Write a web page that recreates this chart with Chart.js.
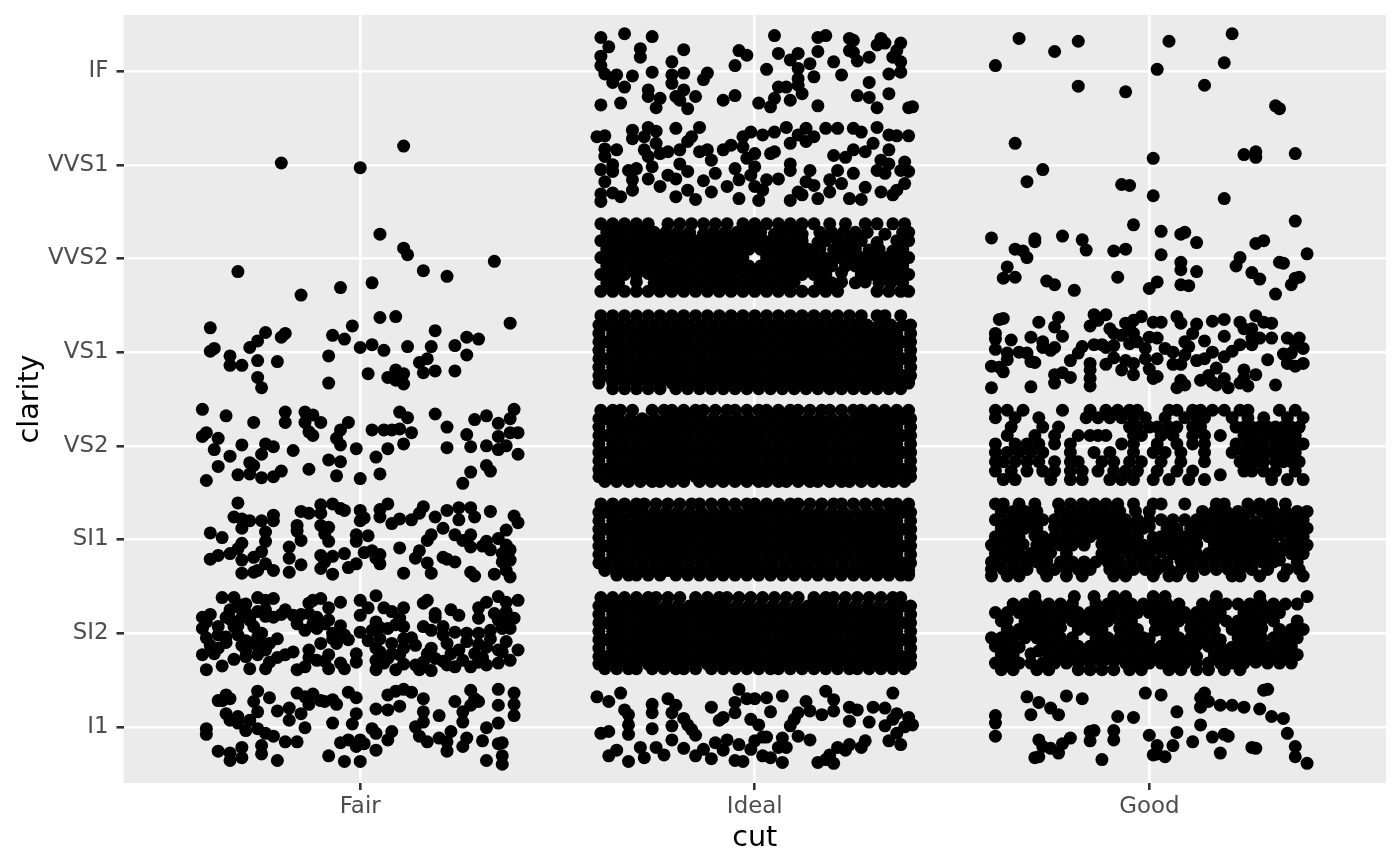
<!DOCTYPE html>
<html>
<head>
<meta charset="utf-8">
<script src="https://cdn.jsdelivr.net/npm/chart.js@4"></script>
<style>html,body{margin:0;background:#fff}canvas{display:block}</style>
</head>
<body>
<canvas id="c" width="1400" height="866"></canvas>
<script>
const cuts = ['Fair', 'Ideal', 'Good'];
const clarities = ['I1', 'SI2', 'SI1', 'VS2', 'VS1', 'VVS2', 'VVS1', 'IF'];

// jitter, in hundredths of a category: x,y,x,y...
const fairVVS1 = [-20,2, 0,-3, 11,20];
const fairVVS2 = [5,26, 11,11, 12,4, 16,-13, 22,-19, 34,-3, -31,-14, -15,-39, -5,-31, 3,-26];
const fairVS1 = [-38,26, -38,1, -37,4, -33,-4, -33,-14, -30,-14, -28,5, -26,12, -24,21, -26,-9, -26,-27, -25,-38, -21,-10, -20,16, -19,20, -8,-4, -8,-33, -7,18, -4,14, -2,28, 0,5, 3,8, 6,2, 5,37, 9,38, 12,6, 2,-23, 7,-27, 9,-30, 9,-19, 11,-34, 11,-23, 15,-11, 17,-7, 16,-22, 19,-20, 18,6, 19,23, 24,7, 24,-20, 27,16, 30,14, 27,-3, 38,31];
const fairVS2 = [-40,39, -34,32, -27,25, -19,36, -19,25, -14,36, -12,33, -14,25, -10,25, -13,15, -12,11, -3,25, -5,17, -6,8, -5,1, -39,14, -40,10, -36,8, -37,-4, -33,-11, -30,1, -36,-22, -39,-37, -31,-31, -28,-18, -27,-21, -28,-30, -25,-34, -24,2, -22,-1, -25,-9, -17,-5, -22,-33, -20,-27, -13,-25, -8,-15, -5,-17, -6,-32, -1,-3, 0,-35, 4,-12, 7,-3, 5,-30, 3,17, 6,17, 8,17, 10,18, 10,36, 12,30, 13,14, 11,2, 19,34, 22,20, 22,-2, 27,12, 29,28, 32,32, 28,-1, 32,0, 28,-28, 26,-40, 32,-21, 33,-27, 35,24, 35,10, 35,-4, 37,0, 39,39, 38,29, 38,14, 40,14, 40,-9];
const fairSI1 = [-31,39, -32,24, -30,22, -30,12, -38,7, -35,2, -30,-4, -31,-10, -33,-15, -36,-17, -38,-21, -30,-22, -30,-36, -27,-35, -26,-33, -24,-26, -27,-19, -25,-13, -28,20, -25,20, -22,26, -22,20, -24,8, -24,-2, -22,-33, -18,-8, -18,-20, -18,-35, -15,30, -13,28, -16,15, -16,9, -15,-1, -15,-27, -10,37, -10,28, -7,38, -5,33, -4,31, -10,15, -8,13, -9,6, -8,-2, -10,-17, -7,-18, -10,-31, -9,-24, -4,-15, -7,-37, -3,-30, -1,-26, 0,31, 0,20, 1,23, -1,5, -1,-2, 2,4, 1,-14, 3,-12, 5,-16, 4,-20, 5,-26, 7,38, 5,32, 5,24, 8,17, 10,22, 10,-9, 11,-36, 13,21, 15,28, 16,35, 18,5, 17,-1, 15,-12, 14,-20, 17,-25, 18,-36, 19,24, 22,31, 21,12, 25,21, 24,5, 26,-1, 25,34, 28,34, 29,24, 28,5, 28,-8, 21,-19, 22,-21, 24,-24, 28,-35, 29,-39, 31,-7, 33,-11, 32,-2, 35,1, 33,30, 34,-37, 37,10, 37,-6, 36,-15, 38,-11, 36,-24, 38,-22, 37,-33, 38,-40, 39,25, 40,18];
const fairSI2 = [-35,38, -32,38, -30,30, -29,31, -26,38, -24,35, -22,37, -19,25, -12,35, -10,37, -13,32, -8,27, -5,33, 0,35, 4,40, 2,27, 0,19, 6,27, 8,23, 11,27, 16,32, 17,35, 23,25, 25,19, 19,21, 30,27, 32,33, 35,39, 37,33, 40,35, -40,17, -38,20, -39,12, -40,5, -39,-5, -38,-13, -36,7, -34,17, -33,25, -31,28, -30,17, -32,7, -34,-4, -36,-16, -37,-22, -40,-23, -39,-39, -35,-35, -32,-28, -29,-25, -28,-38, -26,23, -24,25, -22,17, -27,7, -25,0, -30,-13, -27,-11, -25,-11, -23,-11, -21,-6, -26,-23, -23,-31, -24,-38, -19,-23, -17,-20, -16,-39, -14,-36, -16,10, -14,3, -11,5, -13,21, -11,17, -8,14, -7,0, -6,-11, -3,-7, -10,-11, -13,-18, -11,-29, -8,-23, -8,-38, -5,-32, -4,-38, -1,-31, -1,-22, 0,1, 3,3, 4,12, 7,5, 10,16, 11,7, 5,-6, 8,-11, 11,-6, 14,-13, 4,-16, 4,-29, 7,-27, 4,-39, 9,-39, 10,-23, 14,-34, 15,-39, 16,-31, 18,-40, 16,7, 18,3, 19,17, 21,7, 24,1, 22,-11, 18,-16, 19,-27, 22,-34, 24,-36, 25,-18, 23,-22, 27,0, 30,0, 30,16, 33,3, 35,14, 36,5, 39,16, 37,23, 33,-6, 37,-9, 35,-18, 29,-22, 28,-36, 30,-31, 32,-34, 35,-32, 40,-18, 38,-29, 36,-20, -33,15, -31,8, -29,22, -28,14, -36,-2, -31,-2, -29,-8, -26,-4, -34,-10, -29,-18, -24,-18, -21,-26, -24,18, -20,20, -17,19, -15,20, -12,10, -9,10, -5,8, -7,-6, -4,-2, -13,-26, -9,-30, 2,-8, 5,6, 9,9, 11,-16, 8,-22, 5,-20, 13,-5, 6,-32, 11,-33, 21,-2, 17,-22, 21,-30, 26,-29, 27,-9, 30,-12, 34,21, 37,15, 32,-15, 38,5, 31,-26];
const fairI1 = [-36,28, -34,34, -33,30, -35,28, -34,14, -33,7, -31,11, -31,4, -29,-4, -28,7, -26,16, -27,27, -26,38, -23,31, -21,17, -26,-2, -24,-7, -22,-10, -25,-20, -25,-29, -19,-16, -16,-16, -18,20, -18,7, -15,14, -14,-1, -16,36, -14,32, -12,35, -13,24, -10,28, -9,27, -7,29, -6,24, -7,4, -3,37, -1,31, -1,14, -2,3, 4,19, 7,34, 9,38, 11,40, 7,18, 10,22, 13,37, 16,30, 16,16, 16,5, 14,0, 15,-10, 17,-16, 20,12, 20,-12, 22,-16, 22,-26, 23,-5, 26,5, 24,27, 26,16, 28,39, 29,30, 28,23, 30,27, 27,-12, 26,-21, 32,-1, 31,-15, 35,23, 35,40, 35,4, 35,-18, 36,-17, 32,-36, 36,-31, 36,-40, 39,36, 39,24, 39,12, -39,-2, -39,-8, -36,-26, -33,-28, -33,-36, -30,-22, -30,-33, -21,-36, -8,-31, -4,-37, 0,-37, -5,-17, -3,-14, 0,-14, -1,-21, 1,-18, 4,-25, 3,-2, 4,-7, 7,-14, 8,-5];

const idealIF = [-39,36, -33,40, -26,37, -37,26, -39,16, -39,6, -38,-3, -36,-12, -35,-4, -31,-5, -33,-17, -34,-34, -39,-36, -29,24, -29,15, -26,-1, -27,-20, -27,-27, -24,-29, -25,-39, -18,23, -21,10, -21,-4, -18,-2, -21,-13, -18,-20, -20,-27, -19,-31, -15,-27, -17,-40, -12,-2, -13,-9, -4,22, -2,17, -5,6, -5,-26, -8,-31, 1,-34, 3,2, 5,38, 6,19, 9,12, 11,19, 11,3, 14,8, 16,21, 15,-6, 11,-8, 16,36, 18,38, 20,10, 22,-4, 6,-17, 5,-29, 4,-38, 9,-31, 8,-17, 11,-15, 12,-24, 16,-37, 24,35, 25,33, 24,22, 25,20, 26,11, 29,15, 31,28, 32,35, 33,30, 37,30, 36,22, 35,15, 37,10, 37,-1, 34,-3, 29,-12, 26,-26, 29,-28, 31,-39, 34,-24, 39,-39, 40,-38];
const idealVVS1 = [-40,30, -38,31, -31,37, -31,28, -27,40, -25,36, -28,30, -25,23, -20,39, -14,40, -16,30, -17,25, -38,17, -35,16, -38,9, -39,-5, -36,0, -36,-7, -38,-18, -39,-31, -39,-39, -36,-30, -34,-34, -28,16, -27,9, -32,-6, -30,-4, -26,-2, -31,-16, -31,-27, -27,-15, -24,-23, -24,12, -22,14, -19,16, -19,1, -17,-7, -22,-11, -20,-15, -20,-34, -17,-27, -15,-37, -13,-17, -14,14, -12,16, -11,5, -10,-9, -11,-29, -8,16, -6,21, -7,-23, -4,-36, -5,-4, -4,-16, -3,30, -1,35, -3,19, -2,7, 0,12, 0,-2, -1,-11, 2,32, 5,35, 8,40, 4,12, 5,14, 0,-23, 2,-27, 1,-38, 3,-16, 6,-15, 9,23, 11,32, 13,39, 13,25, 15,30, 18,39, 21,39, 9,1, 9,-6, 14,-6, 13,-18, 11,-29, 9,-38, 12,-32, 16,-36, 15,-22, 19,-16, 19,-29, 21,-6, 20,10, 23,8, 25,16, 28,14, 25,-9, 22,-20, 24,-36, 27,-37, 28,-24, 25,39, 27,35, 31,40, 30,23, 34,32, 36,31, 39,31, 34,16, 32,5, 34,1, 31,-6, 33,-9, 38,3, 37,-6, 39,-7, 38,-20, 36,-27, 35,-32, 32,-29];
const idealI1 = [-40,32, -37,27, -34,36, -33,18, -32,13, -32,2, -32,-8, -39,-7, -37,-5, -26,-2, -26,24, -26,15, -22,30, -20,23, -21,15, -21,1, -21,-14, -37,-31, -35,-25, -32,-37, -29,-22, -28,-33, -25,-22, -23,-30, -18,9, -17,2, -16,-3, -15,-9, -18,-23, -15,-31, -13,-24, -11,-34, -10,-17, -8,-25, -7,-14, -11,21, -5,26, -5,15, -8,10, -9,7, -4,40, -2,30, 0,30, 3,31, 7,33, 4,16, -1,8, 1,2, -4,-19, -5,-36, -3,-37, -1,-24, 0,-15, 2,-11, 3,-11, 2,-31, 4,-33, 7,-38, 7,-12, 6,-22, 8,-22, 9,1, 11,-10, 10,8, 11,15, 14,17, 13,27, 14,-14, 17,13, 20,17, 20,29, 18,38, 24,21, 26,18, 24,6, 29,5, 30,21, 33,20, 35,36, 36,14, 35,8, 33,1, 39,10, 40,2, 38,0, 36,-7, 34,-15, 37,-19, 28,-15, 27,-22, 24,-19, 23,-25, 21,-22, 19,-30, 18,-35, 16,-38, 20,-39];

const goodIF = [-33,35, -24,21, -18,32, -39,6, 5,32, 21,40, 19,9, 2,2, -18,-16, -6,-22, 14,-15, 32,-37, 33,-40];
const goodVVS1 = [-34,23, 1,7, 24,11, 27,14, 27,8, 37,12, -27,-5, -31,-18, -7,-21, -5,-22, 1,-33, 19,-36];
const goodVVS2 = [37,40, -4,36, -40,22, -29,21, -29,18, -22,24, -17,20, -16,9, -34,10, -32,8, -31,1, -9,8, -6,10, 3,29, 8,26, 9,28, 12,17, 27,16, 29,19, 40,5, 3,4, 8,-4, 8,-12, 12,-14, 23,1, 22,-8, 26,-15, 28,-22, 33,-4, 34,-5, -36,-9, -37,-21, -34,-20, -26,-24, -24,-28, -19,-34, -8,-20, 0,-32, 2,-25, 8,-28, 10,-29, 37,-21, 38,-20, 36,-28, 32,-38];
const goodVS1 = [-37,36, -38,35, -28,32, -23,37, -24,27, -22,17, -39,20, -39,14, -39,3, -35,13, -30,16, -27,11, -27,5, -25,2, -24,5, -36,-1, -33,0, -31,-1, -36,-8, -30,-10, -29,-11, -40,-15, -38,-16, -37,-21, -40,-38, -30,-37, -24,-24, -24,-33, -22,-22, -20,-27, -17,6, -18,-1, -20,-9, -15,-12, -15,-19, -15,-28, -15,-36, -14,40, -11,40, -15,28, -13,34, -10,25, -9,20, -14,8, -12,8, -11,5, -9,7, -11,-13, -9,-6, -7,-19, -6,-9, -4,-24, -4,-12, -6,31, -4,34, -2,38, -7,18, -5,27, -4,20, -5,9, -3,11, 0,16, 2,15, 1,32, 3,32, -1,4, -1,-7, 0,-18, 1,-28, 2,-26, 2,-7, 4,4, 6,0, 6,-13, 8,-13, 7,38, 8,31, 12,30, 11,20, 14,12, 9,11, 9,-3, 10,6, 7,-38, 8,-30, 9,-35, 12,-9, 14,-7, 16,33, 19,35, 19,17, 16,0, 19,-5, 21,1, 17,-17, 13,-30, 15,-25, 16,-32, 19,-28, 20,-38, 17,-35, 23,32, 24,25, 27,39, 29,32, 31,31, 26,25, 26,15, 28,15, 23,8, 26,8, 31,15, 30,-8, 24,-19, 27,-24, 24,-28, 23,-33, 25,-36, 32,-35, 35,15, 38,15, 37,9, 39,4, 34,-2, 36,-1, 35,-12, 37,-15, 39,-12];
const goodI1 = [-39,12, -39,4, -39,-10, -31,32, -28,26, -25,20, -30,13, -23,13, -21,33, -17,30, -8,11, -4,10, -1,36, 3,34, 7,16, 14,36, 13,31, 15,27, 13,21, 18,23, 21,23, 24,21, 28,19, 29,39, 30,40, 31,11, 34,9, 35,-7, 13,2, 7,-6, 16,-11, 19,-8, 20,-10, 0,-9, 6,-20, 11,-16, 18,-28, 26,-22, 27,-23, 37,-21, 37,-32, 40,-39, -15,-5, -14,-4, -15,-15, -9,-4, -9,-14, -28,-14, -27,-21, -25,-23, -23,-28, -22,-18, -20,-12, -29,-33, -28,-32, -12,-35, 2,-20, 1,-30, 2,-29, 4,-32];

// points that half close the gaps between the crowded rows below
const idealVVS2Extra = [-13,26, 5,26, 12,26, 33,26, 3,18, 16,17, 31,17, 20,9, 29,9, 35,8, -21,2, 18,0, 23,-8, -27,-16, -3,-16, 22,-15, -30,-25, 10,-25, 22,-25, 28,-25];
const goodSI1Extra = [-36,20, 27,19, -24,13, 0,14, 7,11, -29,4, 1,2, 33,5, -32,-5, -12,-5, 12,-5, -25,-14, -6,-14, 3,-13, -26,-23, 8,-23, 33,-22];
const goodSI2Extra = [-22.5,6, -7.5,5, 1.5,3, 10.5,5, 16.5,3, 28.5,5, 0,-6, 18,-7, -33,-15, 12,-13, 21,-15, 30,-15, -30,-22, 12,-25, -9,-30, 27,-31, -36,14, -28,-19];

// bands that print as solid black: the same two overlapping x rows stacked
const solidA = [-39.5,-36,-33,-30,-27,-24,-21,-18,-15,-12,-9,-6,-3,0,3,6,9,12,15,18,21,24,27,30,33,36,39.5];
const solidB = [-39.5,-37.5,-34.5,-31.5,-28.5,-25.5,-22.5,-19.5,-16.5,-13.5,-10.5,-7.5,-4.5,-1.5,1.5,4.5,7.5,10.5,13.5,16.5,19.5,22.5,25.5,28.5,31.5,34.5,37.5,39.5];
const solidMiddle = [[29, ...solidB], [20, ...solidA], [11, ...solidB], [2, ...solidA], [-7, ...solidB], [-16, ...solidA], [-25, ...solidB]];

// other crowded bands, one row per line: y, then the x values on it
const idealVS1 = [
  [39, -39,-36,-33,-30,-27,-24,-21,-18,-15,-12,-9,-6,-3,0,3,6,9,12,15,18,21,24,27,31,33,37],
  ...solidMiddle,
  [-33, -39.5,-36,-33,-30,-27,-24,-21,-18,-15,-12,-9,-6,-3,0,3,6,9,12,15,18,21,24,27,30,33,36,39],
  [-39, -36,-33,-30,-27,-24,-20,-17,-14,-11,-8,-5,-2,1,4,7,10,13,16,19,22,25,28,31,34,37],
];
const idealVS2 = [
  [38, -39,-36,-34,-31,-26,-23,-21,-18,-15,-13,-10,-7,-5,-2,1,3,6,9,11,14,17,19,22,25,27,30,33,36,39],
  ...solidMiddle,
  [-33, -39.5,-36,-33,-30,-27,-24,-21,-18,-15,-12,-9,-6,-3,0,3,6,9,12,15,18,21,24,27,30,33,36,39.5],
  [-38, -38,-35,-32,-29,-26,-24,-21,-18,-14,-11,-8,-5,-2,1,3,6,8,11,14,16,19,22,24,27,30,33,35,38],
];
const idealSI1 = [
  [38, -39,-36,-33,-30,-28,-25,-22,-19,-16,-14,-11,-8,-5,-2,0,3,6,9,11,14,17,20,22,25,28,31,34,36,39],
  ...solidMiddle,
  [-33, -38,-35,-33,-30,-28,-25,-22,-20,-17,-14,-11,-9,-6,-3,0,3,5,8,11,14,17,19,22,25,28,30,33,36,39],
  [-38, -35,-32,-30,-27,-24,-20,-17,-14,-11,-8,-5,-2,1,4,7,10,13,16,19,22,25,28,31,34,37,39],
];
const idealSI2 = [
  [38, -39,-36,-33,-30,-27,-25,-22,-19,-15,-12,-9,-7,-4,-1,2,5,8,11,15,18,20,23,26,29,32,35,37],
  ...solidMiddle,
  [-33, -39.5,-36,-33,-30,-27,-24,-21,-18,-15,-12,-9,-6,-3,0,3,6,9,12,15,18,21,24,27,30,33,36,39.5],
  [-38, -38,-35,-32,-30,-26,-23,-20,-18,-15,-11,-8,-5,-2,1,4,6,9,12,15,18,21,24,26,29,32,35,38],
];
const idealVVS2 = [
  [37, -39,-36,-33,-30,-27,-22,-19,-16,-13,-10,-7,-3,0,3,6,9,12,15,19,23,28,31,35,38],
  [28, -37.5,-34.5,-31.5,-28.5,-25.5,-22.5,-19.5,-16.5,-10.5,-7.5,-4.5,-1.5,1.5,7.5,10.5,16.5,19.5,22.5,25.5,28.5,37.5,39],
  [19, -39,-36,-33,-30,-27,-24,-21,-18,-15,-12,-9,-6,-3,0,6,9,12,18,21,24,27,36,39],
  [10, -37.5,-34.5,-31.5,-28.5,-25.5,-22.5,-19.5,-16.5,-13.5,-10.5,-7.5,-4.5,-1.5,1.5,4.5,7.5,10.5,13.5,16.5,22.5,25.5,31.5,37.5],
  [1, -39,-36,-33,-30,-27,-24,-18,-15,-12,-9,-6,-3,3,6,9,12,15,21,24,27,30,33,36,39],
  [-8, -37.5,-34.5,-31.5,-28.5,-25.5,-22.5,-19.5,-16.5,-13.5,-10.5,-7.5,-4.5,-1.5,1.5,4.5,7.5,10.5,13.5,16.5,19.5,25.5,28.5,31.5,34.5,37.5],
  [-17, -39,-36,-33,-30,-24,-21,-18,-15,-12,-9,-6,0,3,6,9,12,15,18,27,30,33,36,39],
  [-26, -37.5,-34.5,-25.5,-22.5,-19.5,-16.5,-13.5,-10.5,-7.5,-4.5,-1.5,1.5,4.5,7.5,16.5,19.5,25.5,31.5,34.5,37.5],
  [-35, -39,-36,-33,-30,-27,-24,-21,-18,-15,-12,-9,-6,-3,0,3,6,9,12,15,18,21,31,34,37,39],
];
const goodVS2 = [
  [38, -39,-36,-32,-22,-15,-11,-8,-5,-3,5,7,11,13,16,19,23,25,33,37],
  [30, -39,-34,-28,-16,-13,-10,-7,-4,-1,4,9,12,14,21,25,29,35,39],
  [20, -35,-27,-23,-5,-3,0,2,5,7,11,13,22,24,26,28,30,32,34,36,38],
  [11, -36,-29,-24,-18,-15,-13,-11,-4,-2,3,6,11,14,18,24,26,29,31,33,35,37],
  [2, -39,-34,-31,-28,-24,-20,-7,-4,2,7,11,14,22,25,27,29,32,34,36,39],
  [-7, -39,-36,-33,-30,-27,-20,-14,-10,-4,1,4,8,14,21,24,26,27,29,30,32,34,35,37],
  [-17, -39,-37,-34,-31,-28,-24,-20,-18,-12,-9,-5,-2,3,8,14,23,25,27,29,32,34,36,38],
  [-27, -39,-35,-31,-27,-24,-20,-17,-13,-9,-6,-3,2,7,11,24,26,29,32,37],
  [-36, -37,-34,-25,-20,-17,-10,-7,-4,1,5,10,14,31,35,39],
  [-31, 18],
];
const goodSI1 = [
  [38, -39,-37,-33,-29,-23,-20,-17,-14,-11,-8,-4,1,3,9,17,19,25,28,31,34.5],
  [30, -37.5,-34.5,-31.5,-28.5,-22.5,-19.5,-16.5,-13.5,-10.5,-7.5,-3.5,0,13.5,16.5,19.5,22.5,25.5,28.5,31.5,34.5,37.5,40],
  [21, -39,-33,-30,-27,-24,-21,-18,-15,-12,-9,-6,-3,0,3,6,9,12,15,18,21,24,30,33,36,39],
  [12, -37.5,-34.5,-31.5,-28.5,-22.5,-19.5,-16.5,-13.5,-10.5,-7.5,-4.5,-1.5,4.5,10.5,13.5,16.5,19.5,22.5,25.5,28.5,31.5,34.5,37.5,40],
  [3, -39,-36,-33,-27,-24,-21,-18,-15,-12,-9,-6,-3,3,6,9,12,15,18,21,24,27,30,36,39],
  [-6, -40,-37.5,-34.5,-28.5,-25.5,-22.5,-19.5,-16.5,-10.5,-7.5,-4.5,-1.5,1.5,4.5,7.5,10.5,16.5,19.5,22.5,25.5,28.5,31.5,34.5,37.5,40],
  [-15, -39,-36,-33,-30,-27,-21,-12,-9,-3,0,6,9,12,15,18,21,24,27,30,33,36,39],
  [-24, -40,-37.5,-34.5,-31.5,-28.5,-22.5,-19.5,-16.5,-13.5,-10.5,-7.5,-4.5,-1.5,1.5,4.5,10.5,13.5,16.5,19.5,22.5,25.5,28.5,31.5,37.5],
  [-32, -40,-37,-34,-31,-27,-24,-21,-18,-15,-10,-7,-4,-1,2,5,8,11,14,17,20,23,26,30,35,38],
  [-39, -40,-36,-33,-26,-21,-17,-9,-6,1,5,7,11,21,23,28,34,39],
];
const goodSI2 = [
  [39, -29,-19,-14,-9,-6,1,4,17,28,40],
  [31, -34.5,-31.5,-28.5,-25.5,-22.5,-19.5,-13.5,-10.5,-7.5,-4.5,-1.5,1.5,4.5,7.5,13.5,16.5,19.5,22.5,25.5,28.5,31.5,34.5,37.5],
  [22, -39,-36,-33,-30,-27,-24,-21,-18,-15,-12,-9,-6,-3,0,3,6,9,12,15,18,24,27,30,33],
  [13, -37.5,-31.5,-28.5,-25.5,-22.5,-19.5,-16.5,-13.5,-10.5,-7.5,-4.5,1.5,4.5,7.5,10.5,13.5,16.5,19.5,22.5,25.5,28.5,31.5,37.5],
  [4, -36,-33,-30,-27,-24,-18,-15,-12,-6,-3,3,6,12,15,21,24,27,33,36,39],
  [-5, -40,-37.5,-34.5,-31.5,-28.5,-25.5,-22.5,-19.5,-13.5,-10.5,-7.5,-4.5,-1.5,4.5,7.5,10.5,13.5,16.5,22.5,25.5,28.5,31.5,34.5,37.5],
  [-14, -39,-36,-27,-24,-21,-18,-15,-12,-9,-6,-3,0,3,6,9,15,18,24,27,33,36],
  [-23, -37.5,-34.5,-25.5,-22.5,-19.5,-16.5,-13.5,-10.5,-7.5,-4.5,-1.5,1.5,4.5,7.5,10.5,16.5,19.5,22.5,25.5,28.5,31.5,34.5,37.5],
  [-32, -39,-36,-33,-30,-27,-24,-21,-18,-15,-12,-6,-3,0,3,6,9,12,15,18,21,24,30,33,36],
  [-39, -37.5,-34.5,-28.5,-25.5,-18,-15,-12,-9,-5,-2,5,8,12,15,19,23],
];

const points = [];
function addPairs(cut, level, arr) {
  for (let i = 0; i < arr.length; i += 2) points.push({ x: cut + arr[i] / 100, y: level + arr[i + 1] / 100 });
}
function addRows(cut, level, rows) {
  rows.forEach(([y, ...xs]) => xs.forEach(x => points.push({ x: cut + x / 100, y: level + y / 100 })));
}
addPairs(0, 6, fairVVS1); addPairs(0, 5, fairVVS2); addPairs(0, 4, fairVS1); addPairs(0, 3, fairVS2);
addPairs(0, 2, fairSI1); addPairs(0, 1, fairSI2); addPairs(0, 0, fairI1);
addPairs(1, 7, idealIF); addPairs(1, 6, idealVVS1); addRows(1, 5, idealVVS2); addPairs(1, 5, idealVVS2Extra); addRows(1, 4, idealVS1);
addRows(1, 3, idealVS2); addRows(1, 2, idealSI1); addRows(1, 1, idealSI2); addPairs(1, 0, idealI1);
addPairs(2, 7, goodIF); addPairs(2, 6, goodVVS1); addPairs(2, 5, goodVVS2); addPairs(2, 4, goodVS1);
addRows(2, 3, goodVS2); addRows(2, 2, goodSI1); addPairs(2, 2, goodSI1Extra); addRows(2, 1, goodSI2); addPairs(2, 1, goodSI2Extra); addPairs(2, 0, goodI1);

const panelBg = {
  id: 'panelBg',
  beforeDraw(chart) {
    const a = chart.chartArea;
    chart.ctx.fillStyle = '#EBEBEB';
    chart.ctx.fillRect(a.left, a.top, a.right - a.left, a.bottom - a.top);
  },
};
const tickFont = { family: 'DejaVu Sans', size: 22.9 };
const titleFont = { family: 'DejaVu Sans', size: 28.6 };

new Chart(document.getElementById('c'), {
  type: 'scatter',
  data: { datasets: [{ data: points, backgroundColor: '#000', pointRadius: 6.5, pointBorderWidth: 0 }] },
  plugins: [panelBg],
  options: {
    responsive: false, animation: false,
    layout: { padding: { top: 15, right: 14, left: 0, bottom: 0 } },
    plugins: { legend: { display: false }, tooltip: { enabled: false } },
    scales: {
      x: {
        min: -0.6, max: 2.6,
        afterBuildTicks: s => { s.ticks = cuts.map((_, i) => ({ value: i })); },
        afterFit: s => { s.height = 83; },
        border: { display: false },
        grid: { color: '#fff', lineWidth: 2.6, tickColor: '#333', tickWidth: 2.6, tickLength: 7 },
        ticks: { color: '#4D4D4D', font: tickFont, padding: 3, maxRotation: 0, autoSkip: false, callback: v => cuts[v] },
        title: { display: true, text: 'cut', color: '#000', font: titleFont, padding: { top: 2, bottom: 10 } },
      },
      y: {
        min: -0.6, max: 7.6,
        afterBuildTicks: s => { s.ticks = clarities.map((_, i) => ({ value: i })); },
        afterFit: s => { s.width = 123.5; s.paddingTop = 0; s.paddingBottom = 0; },
        border: { display: false },
        grid: { color: '#fff', lineWidth: 2.6, tickColor: '#333', tickWidth: 2.6, tickLength: 7 },
        ticks: { color: '#4D4D4D', font: tickFont, padding: 8, autoSkip: false, callback: v => clarities[v] },
        title: { display: true, text: 'clarity', color: '#000', font: titleFont, padding: { top: 13, bottom: 0 } },
      },
    },
  },
});
</script>
</body>
</html>
